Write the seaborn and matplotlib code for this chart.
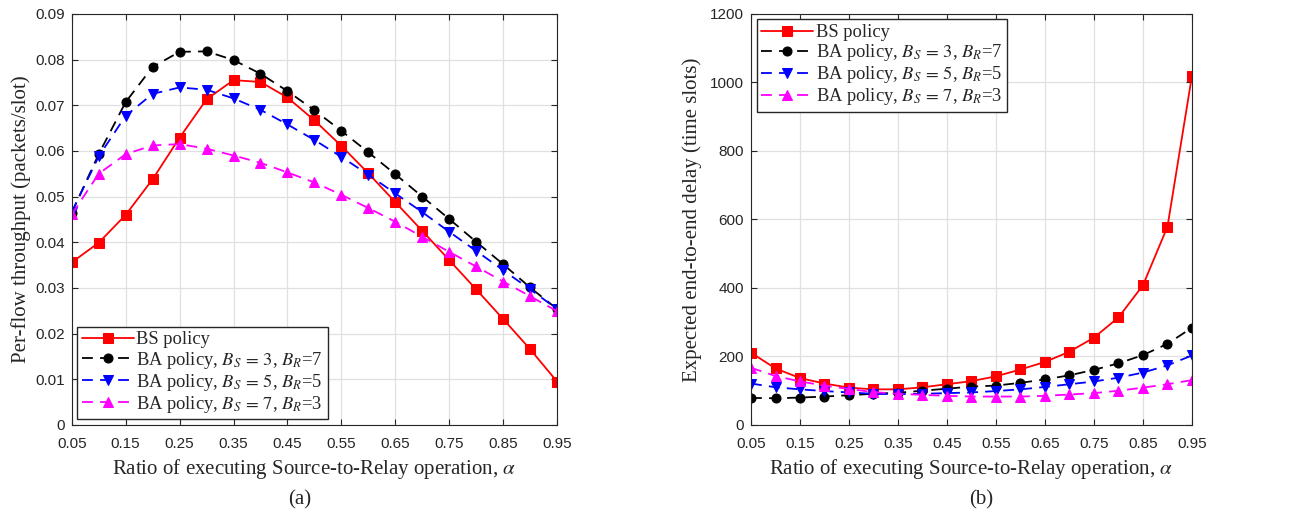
import numpy as np
import pandas as pd
import matplotlib
matplotlib.use("Agg")
import matplotlib.pyplot as plt
import seaborn as sns

# ratio of executing S->R operation
alpha = [0.05, 0.10, 0.15, 0.20, 0.25, 0.30, 0.35, 0.40, 0.45, 0.50,
         0.55, 0.60, 0.65, 0.70, 0.75, 0.80, 0.85, 0.90, 0.95]

# (a) per-flow throughput
thr_bs = [0.0356, 0.0399, 0.0460, 0.0538, 0.0629, 0.0713, 0.0755, 0.0751, 0.0717, 0.0667,
          0.0611, 0.0551, 0.0488, 0.0425, 0.0361, 0.0297, 0.0232, 0.0166, 0.0095]
thr_ba37 = [0.0465, 0.0593, 0.0707, 0.0784, 0.0817, 0.0818, 0.0799, 0.0769, 0.0731, 0.0689,
            0.0644, 0.0597, 0.0549, 0.0500, 0.0451, 0.0401, 0.0352, 0.0301, 0.0254]
thr_ba55 = [0.0466, 0.0588, 0.0677, 0.0725, 0.0739, 0.0734, 0.0715, 0.0690, 0.0658, 0.0624,
            0.0587, 0.0548, 0.0507, 0.0466, 0.0423, 0.0381, 0.0339, 0.0297, 0.0254]
thr_ba73 = [0.0461, 0.0550, 0.0593, 0.0612, 0.0615, 0.0605, 0.0590, 0.0574, 0.0553, 0.0531,
            0.0504, 0.0475, 0.0445, 0.0412, 0.0379, 0.0347, 0.0314, 0.0282, 0.0249]

# (b) expected end-to-end delay
dly_bs = [211, 165, 137, 121, 109, 104, 104, 110, 119, 128,
          142, 162, 184, 214, 255, 314, 408, 579, 1020]
dly_ba37 = [79, 78, 80, 83, 87, 91, 94, 100, 106, 112,
            115, 123, 133, 145, 161, 180, 204, 237, 284]
dly_ba55 = [121, 110, 104, 99, 95, 91, 90, 91, 93, 95,
            99, 104, 111, 119, 127, 138, 153, 174, 203]
dly_ba73 = [167, 143, 127, 115, 105, 96, 91, 88, 85, 83,
            83, 83, 85, 89, 93, 100, 109, 119, 131]

labels = ["BS policy",
          r"BA policy, $B_S\,=\,3$, $B_R$=7",
          r"BA policy, $B_S\,=\,5$, $B_R$=5",
          r"BA policy, $B_S\,=\,7$, $B_R$=3"]
colors = ["red", "black", "blue", "magenta"]
markers = ["s", "o", "v", "^"]
styles = ["-", (0, (6, 4)), (0, (6, 4)), (0, (6, 4))]

xticks = [0.05, 0.15, 0.25, 0.35, 0.45, 0.55, 0.65, 0.75, 0.85, 0.95]

sns.set_style("ticks")
plt.rcParams["font.family"] = ["Liberation Serif", "DejaVu Serif"]
plt.rcParams["mathtext.fontset"] = "stix"

fig = plt.figure(figsize=(13.07, 5.21), dpi=100)
ax1 = fig.add_axes([0.0549, 0.1843, 0.3713, 0.789])
ax2 = fig.add_axes([0.5746, 0.1843, 0.3374, 0.789])

leg_kw = dict(fontsize=13.3, frameon=True, fancybox=False, edgecolor="#262626",
              framealpha=1, handlelength=2.8, handletextpad=0.15,
              borderpad=0.25, labelspacing=0.06, borderaxespad=0.3)


def draw(ax, series):
    for ys, lab, c, m, ls in zip(series, labels, colors, markers, styles):
        df = pd.DataFrame({"alpha": alpha, "val": ys})
        sns.lineplot(data=df, x="alpha", y="val", ax=ax, color=c, marker=m,
                     linestyle=ls, linewidth=1.3, markersize=6.5,
                     markeredgecolor=c, label=lab)
    ax.set_xlim(0.05, 0.95)
    ax.set_xticks(xticks)
    ax.set_xticklabels([f"{t:.2f}" for t in xticks], family="Liberation Sans",
                       fontsize=11)
    ax.grid(True, color="#e0e0e0", linewidth=0.9)
    ax.set_axisbelow(True)
    ax.tick_params(direction="in", top=True, right=True, length=4,
                   color="#262626", labelsize=11)
    ax.tick_params(axis="x", pad=9)
    ax.tick_params(axis="y", pad=5)
    for s in ax.spines.values():
        s.set_color("#262626")
        s.set_linewidth(0.8)
    ax.set_xlabel(r"Ratio of executing Source-to-Relay operation, $\alpha$",
                  fontsize=15, labelpad=4)


draw(ax1, [thr_bs, thr_ba37, thr_ba55, thr_ba73])
ax1.set_ylim(0, 0.09)
yt1 = [0, 0.01, 0.02, 0.03, 0.04, 0.05, 0.06, 0.07, 0.08, 0.09]
ax1.set_yticks(yt1)
ax1.set_yticklabels(["0"] + [f"{t:.2f}" for t in yt1[1:]],
                    family="Liberation Sans", fontsize=11)
ax1.set_ylabel("Per-flow throughput (packets/slot)", fontsize=15, labelpad=3)
ax1.legend(loc="lower left", **leg_kw)

draw(ax2, [dly_bs, dly_ba37, dly_ba55, dly_ba73])
ax2.set_ylim(0, 1200)
yt2 = [0, 200, 400, 600, 800, 1000, 1200]
ax2.set_yticks(yt2)
ax2.set_yticklabels([str(t) for t in yt2], family="Liberation Sans", fontsize=11)
ax2.set_ylabel("Expected end-to-end delay (time slots)", fontsize=15, labelpad=6)
ax2.legend(loc="upper left", **leg_kw)

fig.text(0.2295, 0.040, "(a)", ha="center", va="center", fontsize=15)
fig.text(0.751, 0.040, "(b)", ha="center", va="center", fontsize=15)

fig.savefig("out.png", dpi=100)
